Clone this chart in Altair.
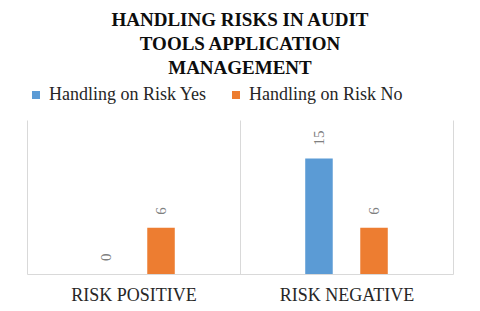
import altair as alt
import pandas as pd

categories = ["RISK POSITIVE", "RISK NEGATIVE"]
series = ["Handling on Risk Yes", "Handling on Risk No"]
yes_values = [0, 15]
no_values = [6, 6]
colors = ["#5B9BD5", "#ED7D31"]

rows = []
for i, c in enumerate(categories):
    rows.append({"category": c, "series": series[0], "value": yes_values[i]})
    rows.append({"category": c, "series": series[1], "value": no_values[i]})
df = pd.DataFrame(rows)

x = alt.X(
    "category:N", sort=categories, title=None,
    scale=alt.Scale(paddingInner=0, paddingOuter=0),
    axis=alt.Axis(labelAngle=0, labelFont="Liberation Serif", labelFontSize=18,
                  labelColor="#262626", ticks=False, domainColor="#d9d9d9",
                  grid=True, gridColor="#d9d9d9", tickBand="extent", labelPadding=12),
)
# empty slots on both sides keep the bar pair narrow and centred in its category
xo = alt.XOffset("series:N",
                 scale=alt.Scale(domain=[" ", series[0], series[1], "  "],
                                 paddingInner=0.5, paddingOuter=0.185))
y = alt.Y("value:Q", scale=alt.Scale(domain=[0, 20]), axis=None)
color = alt.Color(
    "series:N", sort=series, scale=alt.Scale(domain=series, range=colors),
    legend=alt.Legend(orient="top", title=None, symbolType="square", symbolSize=64,
                      labelFont="Liberation Serif", labelFontSize=18, labelColor="#262626",
                      columnPadding=20, offset=16),
)

bars = alt.Chart(df).mark_bar().encode(x=x, xOffset=xo, y=y, color=color)
labels = alt.Chart(df).mark_text(angle=270, align="left", baseline="middle", dx=13,
                                 font="Liberation Serif", fontSize=15, color="#7f7f7f").encode(
    x=x, xOffset=xo, y=y, text="value:Q")

chart = alt.layer(bars, labels).properties(
    width=426, height=154,
    title=alt.Title(["HANDLING RISKS IN AUDIT", "TOOLS APPLICATION", "MANAGEMENT"],
                    font="Liberation Serif", fontSize=19, fontWeight="bold", color="#0d0d0d",
                    lineHeight=24, anchor="middle", offset=8),
    padding={"left": 19, "top": 3, "right": 5, "bottom": 5},
).configure_view(stroke=None)

chart.save("out.html", embed_options={"renderer": "svg", "actions": False})
